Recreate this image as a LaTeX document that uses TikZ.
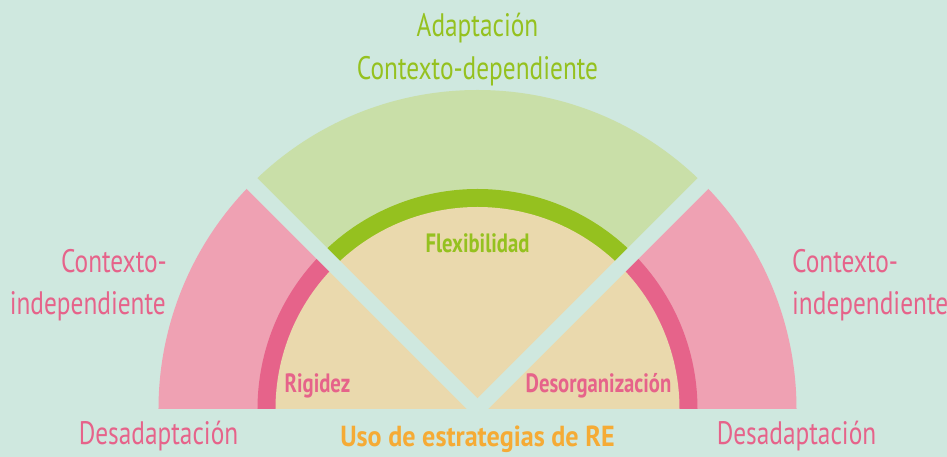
\documentclass[tikz,border=0pt]{standalone}
\usepackage{fontspec}
\setmainfont[FakeStretch=0.78]{PT Sans}
\newfontfamily\usofont[FakeStretch=0.9]{PT Sans}
\usepackage{tikz}

\definecolor{mintbg}{HTML}{CFE8DF}
\definecolor{palegreen}{HTML}{C9DFA8}
\definecolor{flexgreen}{HTML}{95C11F}
\definecolor{sandbeige}{HTML}{EAD9AD}
\definecolor{palepink}{HTML}{EFA1B3}
\definecolor{rigidpink}{HTML}{E6638A}
\definecolor{reorange}{HTML}{F5AB35}

\begin{document}
\begin{tikzpicture}[x=1pt, y=1pt,
	bigtext/.style={font=\fontsize{32.5}{42}\selectfont, inner sep=0pt},
	smalltext/.style={font=\fontsize{26.5}{30}\selectfont\bfseries, inner sep=0pt},
	gap/.style={draw=mintbg, line width=15pt}]
		
		\fill[mintbg] (-477.5,-48) rectangle (469.5,409);
		\useasboundingbox (-477.5,-48) rectangle (469.5,409);
		
		% --- left sector (Rigidez) ---
		\fill[palepink] (0,0) -- (180:319) arc[start angle=180, end angle=135, radius=319pt] -- cycle;
		\fill[rigidpink] (0,0) -- (180:220) arc[start angle=180, end angle=135, radius=220pt] -- cycle;
		\fill[sandbeige] (0,0) -- (180:202) arc[start angle=180, end angle=135, radius=202pt] -- cycle;
		
		% --- middle sector (Flexibilidad) ---
		\fill[palegreen] (0,0) -- (135:319) arc[start angle=135, end angle=45, radius=319pt] -- cycle;
		\fill[flexgreen] (0,0) -- (135:220) arc[start angle=135, end angle=45, radius=220pt] -- cycle;
		\fill[sandbeige] (0,0) -- (135:202) arc[start angle=135, end angle=45, radius=202pt] -- cycle;
		
		% --- right sector (Desorganizacion) ---
		\fill[palepink] (0,0) -- (45:319) arc[start angle=45, end angle=0, radius=319pt] -- cycle;
		\fill[rigidpink] (0,0) -- (45:220) arc[start angle=45, end angle=0, radius=220pt] -- cycle;
		\fill[sandbeige] (0,0) -- (45:202) arc[start angle=45, end angle=0, radius=202pt] -- cycle;
		
		% gaps between the sectors
		\draw[gap] (135:-20) -- (135:340);
		\draw[gap] (45:-20) -- (45:340);
		
		% labels inside
		\node[smalltext, text=flexgreen, anchor=base] (flex) at (0,156) {Flexibilidad};
		\node[smalltext, text=rigidpink, anchor=base] (rigid) at (-160,16) {Rigidez};
		\node[smalltext, text=rigidpink, anchor=base] (desorg) at (121,16) {Desorganización};
		
		% labels outside
		\node[bigtext, text=flexgreen, anchor=base] (adapt) at (0,372) {Adaptación};
		\node[bigtext, text=flexgreen, anchor=base] (ctxdep) at (0,329) {Contexto-dependiente};
		\node[bigtext, text=rigidpink, anchor=base east] (ctxindl1) at (-310.5,136) {Contexto-};
		\node[bigtext, text=rigidpink, anchor=base east] (ctxindl2) at (-311.5,94) {independiente};
		\node[bigtext, text=rigidpink, anchor=base west] (ctxindr1) at (314.5,136) {Contexto-};
		\node[bigtext, text=rigidpink, anchor=base west] (ctxindr2) at (314.5,94) {independiente};
		\node[bigtext, text=rigidpink, anchor=base] (desadl) at (-319,-36) {Desadaptación};
		\node[bigtext, text=rigidpink, anchor=base] (desadr) at (319,-36) {Desadaptación};
		\node[font=\usofont\fontsize{29}{32}\selectfont\bfseries, inner sep=0pt, text=reorange, anchor=base] (uso) at (0,-38) {Uso de estrategias de RE};
		
	\end{tikzpicture}
\end{document}
